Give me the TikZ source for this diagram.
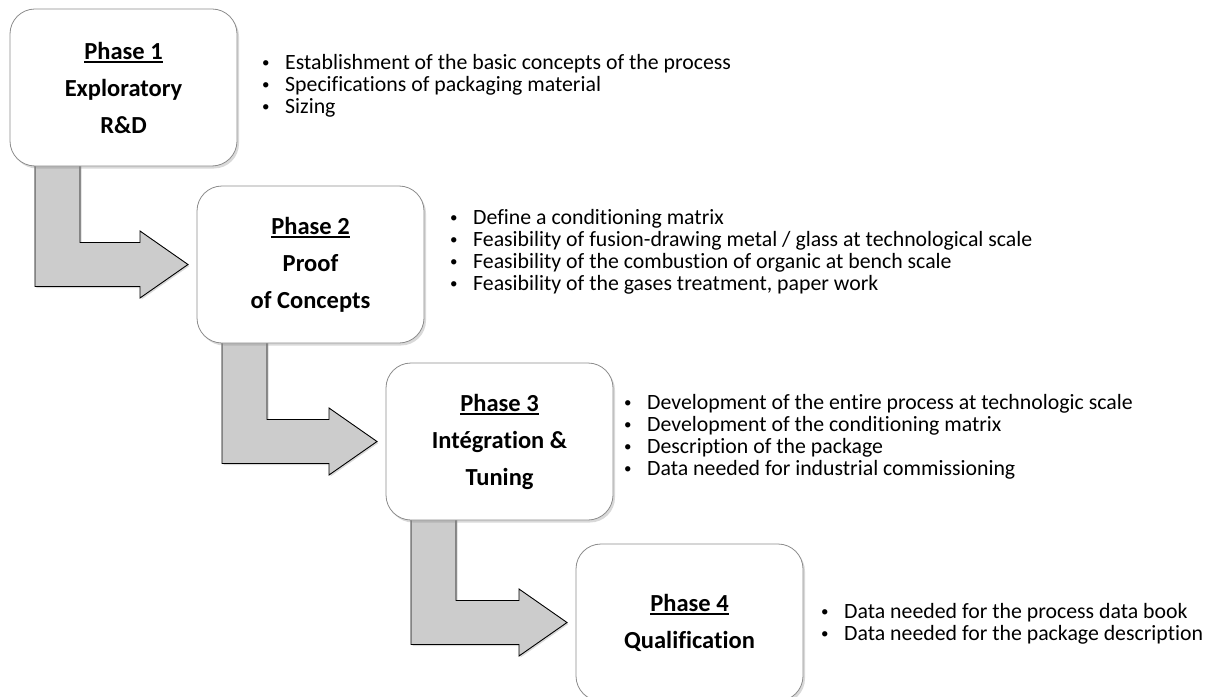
\documentclass[tikz,border=0pt]{standalone}
\usepackage{fontspec}
\setmainfont{Carlito}[Ligatures={TeX,NoCommon}]
\usetikzlibrary{positioning,calc,shadows,backgrounds}
\newcommand{\bul}{\makebox[23bp][l]{\raisebox{1.8bp}{\fontsize{15bp}{15bp}\selectfont\textbullet}}}
\newcommand{\phaseul}[1]{\setbox0\hbox{#1}\rlap{\rule[-3.5bp]{\wd0}{1.8bp}}\box0}
% bent block arrow from the bottom of one phase box to the left side of the next
\newcommand{\phasearrow}[2]{%
  \draw[phasebend] let \p1=(#1.south west), \p2=(#2.west) in
    (\x1+25bp,\y1+4bp) -- (\x1+25bp,\y2-22bp) -- (\x2-57bp,\y2-22bp)
    -- (\x2-57bp,\y2-33.5bp) -- (\x2-9bp,\y2) -- (\x2-57bp,\y2+33.5bp)
    -- (\x2-57bp,\y2+22bp) -- (\x1+70bp,\y2+22bp) -- (\x1+70bp,\y1+4bp) -- cycle;}
\begin{document}
\begin{tikzpicture}[x=1bp,y=-1bp]
    \tikzset{phase/.style={draw=black!45,line width=0.8bp,fill=white,rounded corners=25bp,
      minimum width=227bp,minimum height=157bp,outer sep=0pt,align=center,
      font=\fontsize{24.5bp}{37bp}\selectfont\bfseries,
      drop shadow={shadow xshift=2bp,shadow yshift=-2.5bp,opacity=.3}},
    list/.style={align=left,inner sep=0pt,anchor=west,font=\fontsize{21.8bp}{22bp}\selectfont},
    phasebend/.style={fill=black!20,draw=black,line width=0.9bp,
      drop shadow={shadow xshift=1.5bp,shadow yshift=-1.5bp,opacity=.3}}}
    \useasboundingbox (0,0) rectangle (1211,697);
    \node[phase] (p1) at (123.5,87.5) {\phaseul{Phase 1}\\Exploratory\\R\&D};
    \node[phase] (p2) [below right=20bp and -40bp of p1] {\phaseul{Phase 2}\\Proof\\of Concepts};
    \node[phase] (p3) [below right=20bp and -38bp of p2] {\phaseul{Phase 3}\\Intégration \&\\Tuning};
    \node[phase] (p4) [below right=24bp and -37bp of p3] {\phaseul{Phase 4}\\Qualification};%no third line

    \node[list] (l1) at (262,86) {\bul Establishment of the basic concepts of the process\\
      \bul Specifications of packaging material\\ \bul Sizing};
    \node[list] (l2) at (450,252) {\bul Define a conditioning matrix\\
      \bul Feasibility of fusion-drawing metal / glass at technological scale\\
      \bul Feasibility of the combustion of organic at bench scale\\
      \bul Feasibility of the gases treatment, paper work};
    \node[list] (l3) at (624,437) {\bul Development of the entire process at technologic scale\\
      \bul Development of the conditioning matrix\\ \bul Description of the package\\
      \bul Data needed for industrial commissioning};
    \node[list] (l4) at (821,624) {\bul Data needed for the process data book\\
      \bul Data needed for the package description};

    \begin{scope}[on background layer]
      \phasearrow{p1}{p2}
      \phasearrow{p2}{p3}
      \phasearrow{p3}{p4}
    \end{scope}
\end{tikzpicture}
\end{document}
